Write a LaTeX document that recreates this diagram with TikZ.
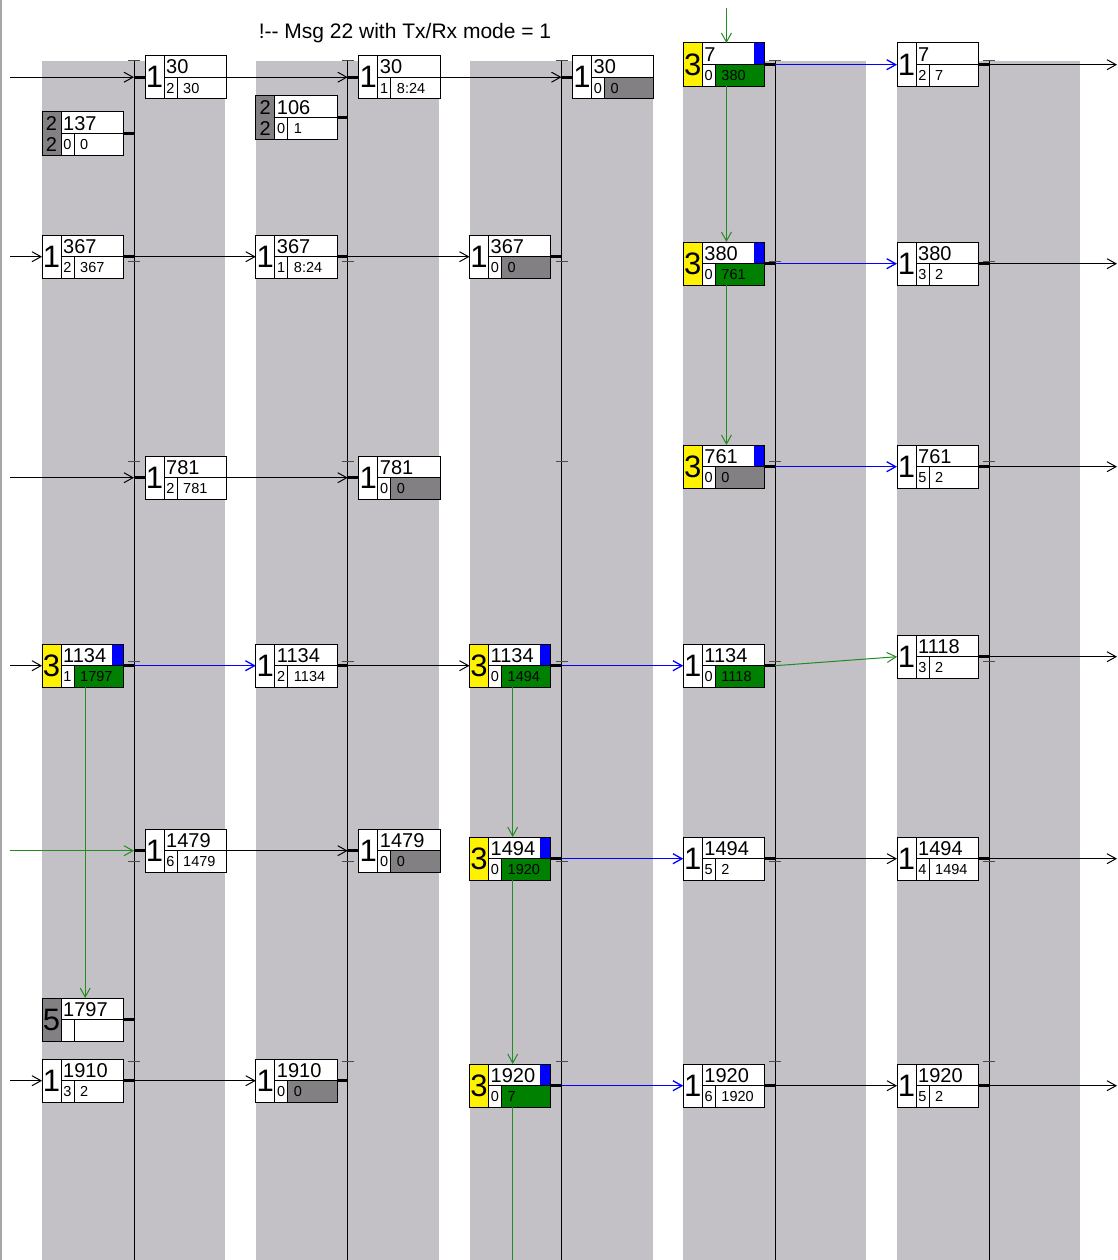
\documentclass[tikz,border=0pt]{standalone}
\usepackage{fontspec}
\setmainfont{Liberation Sans}
\usetikzlibrary{arrows.meta}
\definecolor{band}{HTML}{C3C1C6}
\definecolor{cellgray}{HTML}{828082}
\definecolor{boxgreen}{HTML}{008000}
\definecolor{linkgreen}{HTML}{228B22}
\definecolor{flagblue}{HTML}{0000FF}

\begin{document}
\begin{tikzpicture}[x=1pt, y=-1pt,
      box/.style={minimum width=81pt, minimum height=43pt, inner sep=0pt, anchor=north west, fill=white},
      frame/.style={draw=black, line width=1pt},
      bigdigit/.style={font=\fontsize{31}{31}\selectfont, inner sep=0pt},
      toptext/.style={font=\fontsize{20}{20}\selectfont, inner sep=0pt, anchor=west},
      subtext/.style={font=\fontsize{14.5}{14.5}\selectfont, inner sep=0pt},
      valtext/.style={font=\fontsize{14.5}{14.5}\selectfont, inner sep=0pt, anchor=west},
      title/.style={font=\fontsize{21}{21}\selectfont, inner sep=0pt, anchor=base},
      rail/.style={draw=black, line width=1pt},
      notch/.style={draw=black!70, line width=1pt},
      stub/.style={draw=black, line width=3pt},
      link/.style={draw=black, line width=1pt, -{Straight Barb[length=9pt,width=10pt]}},
      bluelink/.style={link, draw=flagblue, line width=1.3pt},
      greenlink/.style={link, draw=linkgreen},
      greenline/.style={draw=linkgreen, line width=1pt}]
    \useasboundingbox (0,0) rectangle (1117,1260);
    \draw[draw=black!35, line width=2pt] (1,0) -- (1,1260);
    \node[title] (title) at (405,39) {!-{}- Msg 22 with Tx/Rx mode = 1};
    \foreach \i/\L in {1/42, 2/255.75, 3/469.5, 4/683.25, 5/897} {
      \fill[band] (\L,61) rectangle ++(183,1199);
      \coordinate (v\i) at (\L+92,61);
      \draw[rail] (v\i) -- ++(0,1199);
      \foreach \t in {0,200,...,1000}
        \draw[notch] ([shift={(-6,\t)}]v\i) -- ++(12,0);
    }
    \coordinate (in) at (10,0);
    \coordinate (out) at (1117,0);
    \coordinate (feed) at (0,8);
    \coordinate (floor) at (0,1260);
    \foreach \nm/\bx/\by/\lc/\dig/\tp/\sm/\vl/\vc/\fl in {
        a1/145/55.5/white/1/30/2/30/white/0, a2/358.75/55.5/white/1/30/1/8:24/white/0,
        a3/572.5/55.5/white/1/30/0/0/cellgray/0, a4/683.25/43/yellow/3/7/0/380/boxgreen/1,
        a5/897/43/white/1/7/2/7/white/0,
        k1/42/112/cellgray/{}/137/0/0/white/0, k2/255.75/96/cellgray/{}/106/0/1/white/0,
        b1/42/235/white/1/367/2/367/white/0, b2/255.75/235/white/1/367/1/8:24/white/0,
        b3/469.5/235/white/1/367/0/0/cellgray/0, b4/683.25/242/yellow/3/380/0/761/boxgreen/1,
        b5/897/242/white/1/380/3/2/white/0,
        c1/145/456/white/1/781/2/781/white/0, c2/358.75/456/white/1/781/0/0/cellgray/0,
        c4/683.25/445/yellow/3/761/0/0/cellgray/1, c5/897/445/white/1/761/5/2/white/0,
        d1/42/644/yellow/3/1134/1/1797/boxgreen/1, d2/255.75/644/white/1/1134/2/1134/white/0,
        d3/469.5/644/yellow/3/1134/0/1494/boxgreen/1, d4/683.25/644/white/1/1134/0/1118/boxgreen/0,
        d5/897/635/white/1/1118/3/2/white/0,
        e1/145/829/white/1/1479/6/1479/white/0, e2/358.75/829/white/1/1479/0/0/cellgray/0,
        e3/469.5/837/yellow/3/1494/0/1920/boxgreen/1, e4/683.25/837/white/1/1494/5/2/white/0,
        e5/897/837/white/1/1494/4/1494/white/0,
        f1/42/998/cellgray/5/1797/{}/{}/white/0,
        g1/42/1059/white/1/1910/3/2/white/0, g2/255.75/1059/white/1/1910/0/0/cellgray/0,
        g3/469.5/1064/yellow/3/1920/0/7/boxgreen/1, g4/683.25/1064/white/1/1920/6/1920/white/0,
        g5/897/1064/white/1/1920/5/2/white/0} {
      \node[box] (\nm) at (\bx,\by) {};
      \fill[\lc] (\nm.north west) rectangle ([shift={(19,0)}]\nm.south west);
      \fill[\vc] ([shift={(32,0)}]\nm.west) rectangle (\nm.south east);
      \ifnum\fl=1 \fill[flagblue] ([shift={(-11,0)}]\nm.north east) rectangle (\nm.east); \fi
      \draw[frame] (\nm.north west) rectangle (\nm.south east)
        ([shift={(19,0)}]\nm.north west) -- ([shift={(19,0)}]\nm.south west)
        ([shift={(19,0)}]\nm.west) -- (\nm.east)
        ([shift={(32,0)}]\nm.west) -- ([shift={(32,0)}]\nm.south west);
      \node[bigdigit] (\nm-d) at ([shift={(9.5,0)}]\nm.west) {\dig};
      \node[toptext] (\nm-t) at ([shift={(21,11.5)}]\nm.north west) {\tp};
      \node[subtext] (\nm-s) at ([shift={(25.5,-10.5)}]\nm.south west) {\sm};
      \node[valtext] (\nm-v) at ([shift={(38,-10.5)}]\nm.south west) {\vl};
    }
    \foreach \nm in {k1,k2} {
      \node[toptext, anchor=center] (\nm-u) at ([shift={(9.5,11.5)}]\nm.north west) {2};
      \node[toptext, anchor=center] (\nm-l) at ([shift={(9.5,-10.5)}]\nm.south west) {2};
    }
    \foreach \b/\v in {k1/v1, k2/v2, b1/v1, b2/v2, b3/v3, a4/v4, a5/v5, b4/v4, b5/v5, c4/v4, c5/v5,
        d1/v1, d2/v2, d3/v3, d4/v4, d5/v5, e3/v3, e4/v4, e5/v5, f1/v1, g1/v1, g2/v2, g3/v3, g4/v4, g5/v5}
      \draw[stub] (\b.east) -- (\v |- \b.east);
    \foreach \b/\v in {a1/v1, a2/v2, a3/v3, c1/v1, c2/v2, e1/v1, e2/v2}
      \draw[stub] (\v |- \b.west) -- (\b.west);
    \foreach \b in {b1,d1,g1}
      \draw[link] (in |- \b.west) -- (\b.west);
    \foreach \b in {a1,c1}
      \draw[link] (in |- \b.west) -- (v1 |- \b.west);
    \draw[greenlink] (in |- e1.west) -- (v1 |- e1.west);
    \foreach \s/\v in {a1/v2, a2/v3, c1/v2, e1/v2}
      \draw[link] (\s.east) -- (\v |- \s.east);
    \foreach \s/\v/\t in {b1/v1/b2, b2/v2/b3, d2/v2/d3, e4/v4/e5, g1/v1/g2, g4/v4/g5}
      \draw[link] (\v |- \s.east) -- (\t.west);
    \foreach \s in {a5,b5,c5,d5,e5,g5}
      \draw[link] (v5 |- \s.east) -- (out |- \s.east);
    \foreach \s/\v/\t in {a4/v4/a5, b4/v4/b5, c4/v4/c5, d1/v1/d2, d3/v3/d4, e3/v3/e4, g3/v3/g4}
      \draw[bluelink] (\v |- \s.east) -- (\t.west);
    \draw[greenlink] (v4 |- d4.east) -- (d5.west);
    \foreach \s/\t in {a4/b4, b4/c4, d1/f1, d3/e3, e3/g3}
      \draw[greenlink] ([xshift=2.5pt]\s.south) -- ([xshift=2.5pt]\t.north);
    \coordinate (a4top) at ([xshift=2.5pt]a4.north);
    \coordinate (g3end) at ([xshift=2.5pt]g3.south);
    \draw[greenlink] (a4top |- feed) -- (a4top);
    \draw[greenline] (g3end) -- (g3end |- floor);
  \end{tikzpicture}
\end{document}
